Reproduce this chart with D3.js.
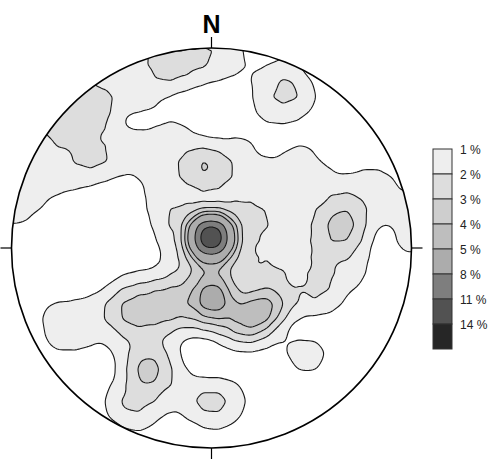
<!DOCTYPE html>
<html><head><meta charset="utf-8">
<script src="https://cdn.jsdelivr.net/npm/d3@7"></script>
<style>body{margin:0;background:#fff}svg{display:block}</style>
</head><body>
<svg id="c" width="489" height="461"></svg>
<script>
// contour levels (percent of poles per 1% area)
const levels = [1, 2, 3, 4, 5, 8, 11, 14];
const levelLabels = ["1 %", "2 %", "3 %", "4 %", "5 %", "8 %", "11 %", "14 %"];
const levelColors = ["#eeeeee", "#dddddd", "#cecece", "#bebebe", "#acacac", "#7e7e7e", "#525252", "#262626"];

// pole counts on a regular counting grid (net units, radius = 100), row 0 = north
const gridX0 = -104, gridY0 = 104, gridStep = 8, gridUnit = 0.42;
const gridRows = [
  "000000004544455201100000000",
  "000003444565654302200000000",
  "000134444466544234520000000",
  "001355544443210045641000000",
  "003566654410000045541000000",
  "014666630023000023310000000",
  "144566444444322310012000000",
  "344446644444554421440000000",
  "444445543445665444444123210",
  "444443210344444444444444410",
  "444200000344444544444554444",
  "342000000256666664445664344",
  "110000000145666654446663044",
  "000000000035666644446652043",
  "000000001124666555446442000",
  "000000034556666456456441000",
  "000112356666666666455310000",
  "001444456666666665433200000",
  "001444456665566664100000000",
  "000444235652013442343000000",
  "000000025653000000343000000",
  "000000025654222100121000000",
  "000000145644565300000000000",
  "000000156532565300000000000",
  "000000023311233100000000000",
  "000000001100010000000000000",
  "000000000000000000000000000"
];

// concentrated pole clusters (net units) and their peak weights
const clusterX = [-0.3, 0.3, 0.3, -0.3, 15.3, 22.3, 28.3, -40.8, -31.8, -22.8, -14.3, -30.8, 64.3, 64.3, -2.3, -64.3];
const clusterY = [5.5, -22.5, -28.5, -10, -37, -33, -29, -33, -31, -28.5, -25, -61, 16, 9, 40, 67.5];
const clusterW = [12, 1.8, 1.8, 1.0, 1.2, 1.2, 1.2, 0.65, 0.65, 0.65, 0.65, 1.1, 0.6, 0.6, 0.9, 0.5];

const W = 489, H = 461;
const cx = 211.5, cy = 248, R = 200;
const svg = d3.select("#c");
const x = d3.scaleLinear().domain([-100, 100]).range([cx - R, cx + R]);
const y = d3.scaleLinear().domain([-100, 100]).range([cy + R, cy - R]);

const gridPts = [];
gridRows.forEach((row, j) => {
  for (let i = 0; i < row.length; i++) {
    const v = parseInt(row[i], 36);
    if (v > 0) gridPts.push({X: gridX0 + i * gridStep, Y: gridY0 - j * gridStep, w: v * gridUnit});
  }
});
const clusterPts = clusterX.map((v, k) => ({X: v, Y: clusterY[k], w: clusterW[k]}));

// density grid
const c = 2, pad = 40, gx0 = -pad, gy0 = -pad;
const n = Math.ceil((W + 2 * pad) / c), m = Math.ceil((H + 2 * pad) / c);
function splat(list) {
  const a = new Float64Array(n * m);
  for (const p of list) {
    const i = Math.floor((x(p.X) - gx0) / c), j = Math.floor((y(p.Y) - gy0) / c);
    if (i >= 0 && i < n && j >= 0 && j < m) a[i + j * n] += p.w;
  }
  return a;
}
function radius(sigma) { const s = sigma / c; return (Math.sqrt(4 * s * s + 1) - 1) / 2; }
const bwGrid = 10, bwCluster = 13;
const A = splat(gridPts), B = splat(clusterPts);
d3.blur2({data: A, width: n, height: m}, radius(bwGrid));
d3.blur2({data: B, width: n, height: m}, radius(bwCluster));
const sPx = Math.abs(x(gridStep) - x(0));
const kA = (sPx * sPx) / (c * c);
const kB = 2 * Math.PI * (bwCluster / c) ** 2;
const F = new Float64Array(n * m);
for (let k = 0; k < F.length; k++) F[k] = A[k] * kA + B[k] * kB;

const contours = d3.contours().size([n, m]).thresholds(levels)(F);
const path = d3.geoPath(d3.geoIdentity().scale(c).translate([gx0, gy0]));

svg.append("defs").append("clipPath").attr("id", "net")
  .append("circle").attr("cx", cx).attr("cy", cy).attr("r", R);

svg.append("g").attr("clip-path", "url(#net)")
  .selectAll("path").data(contours).join("path")
  .attr("d", path)
  .attr("fill", (d, i) => levelColors[i])
  .attr("stroke", "#1a1a1a").attr("stroke-width", 1.1).attr("stroke-linejoin", "round");

svg.append("circle").attr("cx", cx).attr("cy", cy).attr("r", R)
  .attr("fill", "none").attr("stroke", "#000").attr("stroke-width", 1.6);

// cardinal ticks
const tickLen = 11;
[[0, -1], [1, 0], [0, 1], [-1, 0]].forEach(([dx, dy]) => {
  svg.append("line")
    .attr("x1", cx + dx * R).attr("y1", cy + dy * R)
    .attr("x2", cx + dx * (R + tickLen)).attr("y2", cy + dy * (R + tickLen))
    .attr("stroke", "#000").attr("stroke-width", 1.2);
});

svg.append("text").attr("x", cx).attr("y", 33).attr("text-anchor", "middle")
  .attr("font-family", "Liberation Sans, Arial, sans-serif").attr("font-weight", "bold")
  .attr("font-size", 25).text("N");

// legend
const lg = svg.append("g");
const ly = d3.scaleBand().domain(levels).range([149, 349]).paddingInner(0);
lg.selectAll("rect").data(levels).join("rect")
  .attr("x", 433).attr("y", d => ly(d)).attr("width", 19).attr("height", ly.bandwidth())
  .attr("fill", (d, i) => levelColors[i]).attr("stroke", "#333").attr("stroke-width", 1);
lg.selectAll("text").data(levels).join("text")
  .attr("x", 460).attr("y", d => ly(d) + 4.5)
  .attr("font-family", "Liberation Sans, Arial, sans-serif").attr("font-size", 12).attr("fill", "#222")
  .text((d, i) => levelLabels[i]);
</script>
</body></html>
